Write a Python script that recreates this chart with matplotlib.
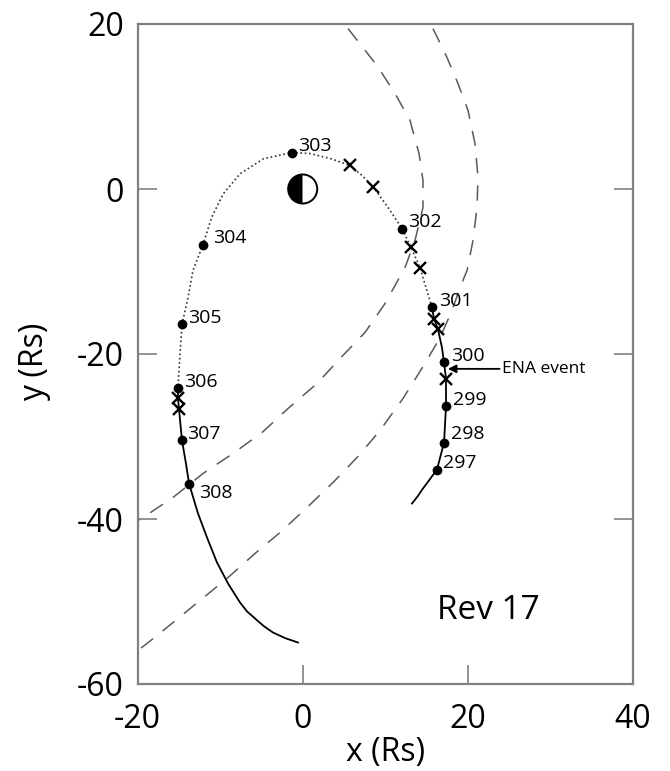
import matplotlib
matplotlib.use("Agg")
import matplotlib.pyplot as plt
from matplotlib.patches import Wedge, Circle

plt.rcParams['font.family'] = ['Open Sans', 'DejaVu Sans']
plt.rcParams['axes.unicode_minus'] = False

# ---- data -------------------------------------------------------------
# trajectory, in order of travel (297 -> 308)
traj_x = [13.25, 13.90, 14.58, 15.40, 16.28, 17.13, 17.37, 17.37, 17.13, 16.88, 16.40, 15.92, 15.67,
          14.94, 14.22, 13.13, 12.04, 10.34, 8.52, 7.19, 5.73, 3.31, 0.88, -1.30,
          -4.77, -7.60, -9.62, -11.03, -12.08, -13.30, -13.90, -14.63, -14.87, -15.12,
          -15.12, -15.00, -14.63, -14.15, -13.78, -12.69, -11.60, -10.39, -9.05, -7.60,
          -6.75, -5.78, -4.70, -3.60, -2.10, -0.57]
traj_y = [-38.12, -37.30, -36.30, -35.20, -34.00, -30.73, -26.36, -22.97, -21.03, -19.21, -17.03,
          -15.70, -14.36,
          -11.94, -9.52, -7.09, -4.79, -2.24, 0.30, 1.64, 2.85, 3.70, 4.30, 4.42,
          3.66, 1.84, -0.58, -3.42, -6.73, -9.88, -13.15, -16.42, -19.94, -24.18,
          -25.39, -26.61, -30.48, -33.27, -35.70, -39.33, -42.24, -45.27, -47.82, -50.12,
          -51.20, -52.06, -53.00, -53.76, -54.45, -54.97]
dotted_start = 12   # index of 301
dotted_end = 33     # index of 306

# day markers
day_labels = ['297', '298', '299', '300', '301', '302', '303', '304', '305', '306', '307', '308']
day_x = [16.28, 17.13, 17.37, 17.13, 15.67, 12.04, -1.30, -12.08, -14.63, -15.12, -14.63, -13.78]
day_y = [-34.00, -30.73, -26.36, -21.03, -14.36, -4.79, 4.42, -6.73, -16.42, -24.18, -30.48, -35.70]

# crossing markers (x)
cross_x = [17.37, 16.40, 15.92, 14.22, 13.13, 8.52, 5.73, -15.12, -15.00]
cross_y = [-22.97, -17.03, -15.70, -9.52, -7.09, 0.30, 2.85, -25.39, -26.61]

# inner dashed boundary
inner_x = [5.49, 9.00, 11.19, 13.01, 14.10, 14.58, 14.58, 13.61, 12.40, 9.98, 7.55, 4.52,
           1.73, -1.78, -4.93, -8.45, -12.08, -15.72, -19.36, -20.0]
inner_y = [19.45, 14.97, 11.58, 8.30, 4.30, 1.03, -2.24, -6.24, -9.52, -13.88, -17.39, -20.55,
           -23.58, -26.61, -29.52, -32.06, -34.48, -37.39, -39.82, -40.2]

# outer dashed boundary
outer_x = [15.79, 17.49, 18.82, 20.04, 20.88, 21.25, 21.13, 20.64, 19.92, 19.07, 18.10, 16.65,
           14.82, 12.16, 9.37, 6.58, 3.67, 0.52, -2.75, -5.78, -9.05, -12.45, -15.72, -18.87, -20.0]
outer_y = [19.45, 15.94, 12.79, 9.52, 5.52, 1.39, -2.24, -6.24, -9.88, -11.94, -14.73, -18.0,
           -21.15, -25.39, -29.27, -32.55, -35.58, -38.61, -41.64, -44.18, -47.09, -49.88,
           -52.55, -55.09, -55.94]

ena_xy = (17.6, -21.8)
ena_text_xy = (24.2, -21.8)
x_ticks = [-20, 0, 20, 40]
y_ticks = [20, 0, -20, -40, -60]

# label offsets in points (style)
label_off = {'297': (4.5, 5), '298': (5, 6), '299': (5, 5), '300': (5, 5), '301': (5, 5),
             '302': (4.5, 4.5), '303': (4.5, 4.5), '304': (7, 5), '305': (4.5, 4.5),
             '306': (4.5, 5), '307': (3.5, 4.5), '308': (7, -6.5)}

# ---- figure -----------------------------------------------------------
fig = plt.figure(figsize=(6.70, 7.71), dpi=100)
ax = fig.add_axes([137.7 / 670, 1 - 684 / 771, 495 / 670, 660 / 771])
ax.set_xlim(-20, 40)
ax.set_ylim(-60, 20)

dash_col = '#5a5a5a'
ax.plot(inner_x, inner_y, color=dash_col, lw=1.1, ls=(0, (10, 8)))
ax.plot(outer_x, outer_y, color=dash_col, lw=1.1, ls=(0, (10, 8)))

ax.plot(traj_x[:dotted_start + 1], traj_y[:dotted_start + 1], color='k', lw=1.3)
ax.plot(traj_x[dotted_start:dotted_end + 1], traj_y[dotted_start:dotted_end + 1],
        color='#333333', lw=1.2, ls=(0, (1, 1.6)))
ax.plot(traj_x[dotted_end:], traj_y[dotted_end:], color='k', lw=1.3)

ax.plot(day_x, day_y, 'o', color='k', ms=6, zorder=5)
ax.plot(cross_x, cross_y, 'x', color='k', ms=8.5, mew=1.7, zorder=5)

for lab, x, y in zip(day_labels, day_x, day_y):
    dx, dy = label_off[lab]
    ax.annotate(lab, (x, y), xytext=(dx, dy), textcoords='offset points',
                ha='left', va='center', fontsize=14)

# planet
r = 1.76
ax.add_patch(Wedge((0, 0), r, 90, 270, facecolor='k', edgecolor='none', zorder=6))
ax.add_patch(Wedge((0, 0), r, -90, 90, facecolor='white', edgecolor='none', zorder=6))
ax.add_patch(Circle((0, 0), r, facecolor='none', edgecolor='k', lw=1.4, zorder=7))

ax.annotate('ENA event', xy=ena_xy, xytext=ena_text_xy, ha='left', va='center',
            fontsize=12.5,
            arrowprops=dict(arrowstyle='-|>', color='k', lw=1.3, shrinkA=0, shrinkB=0,
                            mutation_scale=12))

ax.text(22.5, -51.1, 'Rev 17', ha='center', va='center', fontsize=24)

frame_col = '#808080'
for s in ax.spines.values():
    s.set_color(frame_col)
    s.set_linewidth(1.6)

ax.set_xticks(x_ticks)
ax.set_yticks(y_ticks)
ax.tick_params(direction='in', length=14, width=1.2, color=frame_col, labelsize=23,
               right=True, top=False)
ax.tick_params(axis='y', pad=10)
ax.tick_params(axis='x', pad=14)

ax.set_xlabel('x (Rs)', fontsize=23)
ax.set_ylabel('y (Rs)', fontsize=23)
ax.xaxis.label.set_va('center')
ax.yaxis.label.set_va('center')
ax.xaxis.set_label_coords(0.5, (684 - 752) / 660)
ax.yaxis.set_label_coords((35 - 137.7) / 495, (684 - 362) / 660)

fig.savefig('out.png', dpi=100)
